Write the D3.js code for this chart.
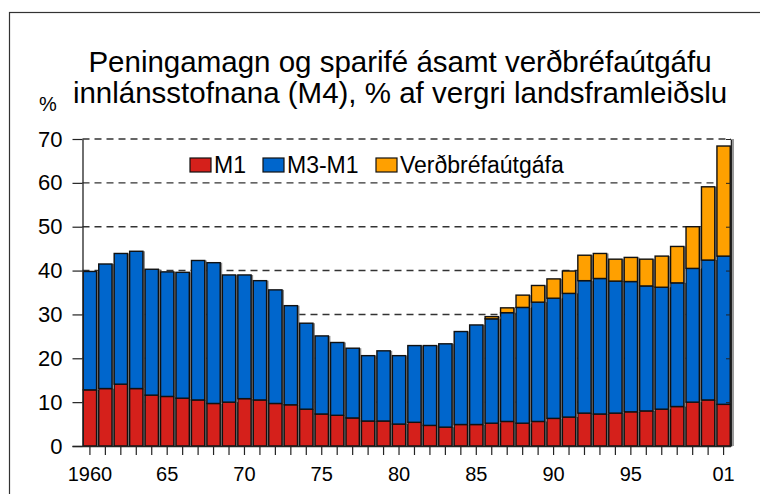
<!DOCTYPE html>
<html>
<head>
<meta charset="utf-8">
<script src="https://cdn.jsdelivr.net/npm/d3@7"></script>
<style>
  body { margin: 0; background: #fff; }
  svg { display: block; font-family: "Liberation Sans", Arial, Helvetica, sans-serif; }
</style>
</head>
<body>
<div id="wrapper"></div>
<script>
// 1. Data
const years = d3.range(1960, 2002)
const m1 = [12.8, 13.1, 14.1, 13.1, 11.6, 11.3, 10.9, 10.5, 9.7, 10.0,
  10.8, 10.5, 9.7, 9.4, 8.4, 7.3, 7.0, 6.4, 5.7, 5.7,
  5.0, 5.4, 4.7, 4.3, 4.9, 4.9, 5.2, 5.6, 5.2, 5.6,
  6.3, 6.6, 7.5, 7.3, 7.5, 7.8, 8.0, 8.4, 9.0, 10.0,
  10.5, 9.5]
const m3m1 = [27.0, 28.4, 29.8, 31.3, 28.7, 28.4, 28.7, 31.8, 32.1, 29.0,
  28.2, 27.2, 25.9, 22.6, 19.6, 17.8, 16.6, 15.9, 14.9, 16.0,
  15.6, 17.5, 18.2, 19.0, 21.2, 22.7, 23.8, 24.8, 26.4, 27.2,
  27.4, 28.2, 30.2, 30.9, 30.1, 29.7, 28.5, 27.8, 28.2, 30.5,
  31.9, 33.8]
const verdbref = [0, 0, 0, 0, 0, 0, 0, 0, 0, 0,
  0, 0, 0, 0, 0, 0, 0, 0, 0, 0,
  0, 0, 0, 0, 0, 0, 0.5, 1.1, 2.8, 3.8,
  4.4, 5.1, 5.8, 5.7, 5.0, 5.5, 6.1, 7.1, 8.3, 9.5,
  16.7, 25.1]
const seriesNames = ["M1", "M3-M1", "Verðbréfaútgáfa"]
const seriesKeys = ["m1", "m3m1", "verd"]
const colors = ["#d5201b", "#0066cc", "#ffa000"]
const yTicks = [0, 10, 20, 30, 40, 50, 60, 70]
const labelYears = [1960, 1965, 1970, 1975, 1980, 1985, 1990, 1995, 2001]

const table = years.map((y, i) => ({ year: y, m1: m1[i], m3m1: m3m1[i], verd: verdbref[i] }))

// 2. Dimensions
const dimensions = {
  width: 760,
  height: 494,
  margin: { top: 139, right: 29, bottom: 48, left: 82.5 }
}
dimensions.boundedWidth = dimensions.width - dimensions.margin.left - dimensions.margin.right
dimensions.boundedHeight = dimensions.height - dimensions.margin.top - dimensions.margin.bottom

// 3. Canvas
const wrapper = d3.select("#wrapper")
  .append("svg")
  .attr("width", dimensions.width)
  .attr("height", dimensions.height)

// outer frame (runs off the right and bottom edges)
wrapper.append("rect")
  .attr("x", 9.5).attr("y", 12.5)
  .attr("width", 800).attr("height", 600)
  .attr("fill", "none")
  .attr("stroke", "#333")
  .attr("stroke-width", 1.2)

const bounds = wrapper.append("g")
  .attr("transform", `translate(${dimensions.margin.left},${dimensions.margin.top})`)

// 4. Scales
const xScale = d3.scaleBand()
  .domain(years)
  .range([0, dimensions.boundedWidth])
  .paddingInner(0.14)
  .paddingOuter(0.05)

const yScale = d3.scaleLinear()
  .domain([0, 70])
  .range([dimensions.boundedHeight, 0])

const stack = d3.stack().keys(seriesKeys)(table)

// 5. Gridlines
bounds.append("g")
  .selectAll("line")
  .data(yTicks.filter(d => d > 0))
  .join("line")
    .attr("x1", 0)
    .attr("x2", dimensions.boundedWidth)
    .attr("y1", d => yScale(d))
    .attr("y2", d => yScale(d))
    .attr("stroke", "#333")
    .attr("stroke-width", 1.4)
    .attr("stroke-dasharray", "7,5")

// 6. Bars (with a soft grey shadow on the right)
const layers = bounds.append("g")
  .selectAll("g")
  .data(stack)
  .join("g")

layers.selectAll("rect.shadow")
  .data(d => d.filter(p => p[1] - p[0] > 0))
  .join("rect")
    .attr("class", "shadow")
    .attr("x", d => xScale(d.data.year) + 2)
    .attr("y", d => yScale(d[1]))
    .attr("width", xScale.bandwidth())
    .attr("height", d => yScale(d[0]) - yScale(d[1]))
    .attr("fill", "#8a8a8a")

layers.selectAll("rect.bar")
  .data(d => d.filter(p => p[1] - p[0] > 0))
  .join("rect")
    .attr("class", "bar")
    .attr("x", d => xScale(d.data.year))
    .attr("y", d => yScale(d[1]))
    .attr("width", xScale.bandwidth())
    .attr("height", d => yScale(d[0]) - yScale(d[1]))
    .attr("fill", (d, i, n) => colors[seriesKeys.indexOf(d3.select(n[i].parentNode).datum().key)])
    .attr("stroke", "#111")
    .attr("stroke-width", 1.4)

// 7. Axes
const yAxis = bounds.append("g")
  .call(d3.axisLeft(yScale)
    .tickValues(yTicks)
    .tickSize(10)
    .tickPadding(10)
    .tickSizeOuter(0))
yAxis.select(".domain").attr("stroke", "#222").attr("stroke-width", 1.3)
yAxis.selectAll(".tick line").attr("stroke", "#222").attr("stroke-width", 1.2)
yAxis.selectAll("text")
  .attr("fill", "#000")
  .style("font-size", "22px")
  .style("font-family", "'Liberation Sans', Arial, sans-serif")

// right axis with inward ticks
const yAxisRight = bounds.append("g")
  .attr("transform", `translate(${dimensions.boundedWidth},0)`)
  .call(d3.axisLeft(yScale)
    .tickValues(yTicks)
    .tickSize(5)
    .tickSizeOuter(0)
    .tickFormat(""))
yAxisRight.select(".domain").attr("stroke", "#222").attr("stroke-width", 1.5)
yAxisRight.selectAll(".tick line").attr("stroke", "#222")
bounds.append("line")
  .attr("x1", dimensions.boundedWidth + 2).attr("x2", dimensions.boundedWidth + 2)
  .attr("y1", 0).attr("y2", dimensions.boundedHeight)
  .attr("stroke", "#999").attr("stroke-width", 2)

const xAxis = bounds.append("g")
  .attr("transform", `translate(0,${dimensions.boundedHeight})`)
  .call(d3.axisBottom(xScale)
    .tickSize(9)
    .tickPadding(12)
    .tickSizeOuter(0)
    .tickFormat(d => labelYears.includes(d) ? (d === 1960 ? "1960" : String(d).slice(2)) : ""))
xAxis.select(".domain")
  .attr("d", `M-10,0.5H${dimensions.boundedWidth}`)
  .attr("stroke", "#222").attr("stroke-width", 1.3)
xAxis.selectAll(".tick line").attr("stroke", "#222").attr("stroke-width", 1.2)
xAxis.selectAll("text")
  .attr("fill", "#000")
  .style("font-size", "20px")
  .style("font-family", "'Liberation Sans', Arial, sans-serif")

// 8. Legend
const legend = wrapper.append("g")
  .attr("transform", "translate(190,158)")
const legendOffsets = [0, 73, 186]
const legendItems = legend.selectAll("g")
  .data(seriesNames)
  .join("g")
    .attr("transform", (d, i) => `translate(${legendOffsets[i]},0)`)
legendItems.append("rect")
  .attr("width", 21).attr("height", 14)
  .attr("fill", (d, i) => colors[i])
  .attr("stroke", "#111").attr("stroke-width", 1.2)
legendItems.append("text")
  .attr("x", 24).attr("y", 15)
  .text(d => d)
  .style("font-size", "23px")

// 9. Title
const title = wrapper.append("g")
title.append("text")
  .attr("x", 400).attr("y", 72)
  .attr("text-anchor", "middle")
  .style("font-size", "29.5px")
  .text("Peningamagn og sparifé ásamt verðbréfaútgáfu")
title.append("text")
  .attr("x", 400).attr("y", 103)
  .attr("text-anchor", "middle")
  .style("font-size", "29.5px")
  .text("innlánsstofnana (M4), % af vergri landsframleiðslu")
wrapper.append("text")
  .attr("x", 39).attr("y", 111)
  .style("font-size", "20px")
  .text("%")
</script>
</body>
</html>
